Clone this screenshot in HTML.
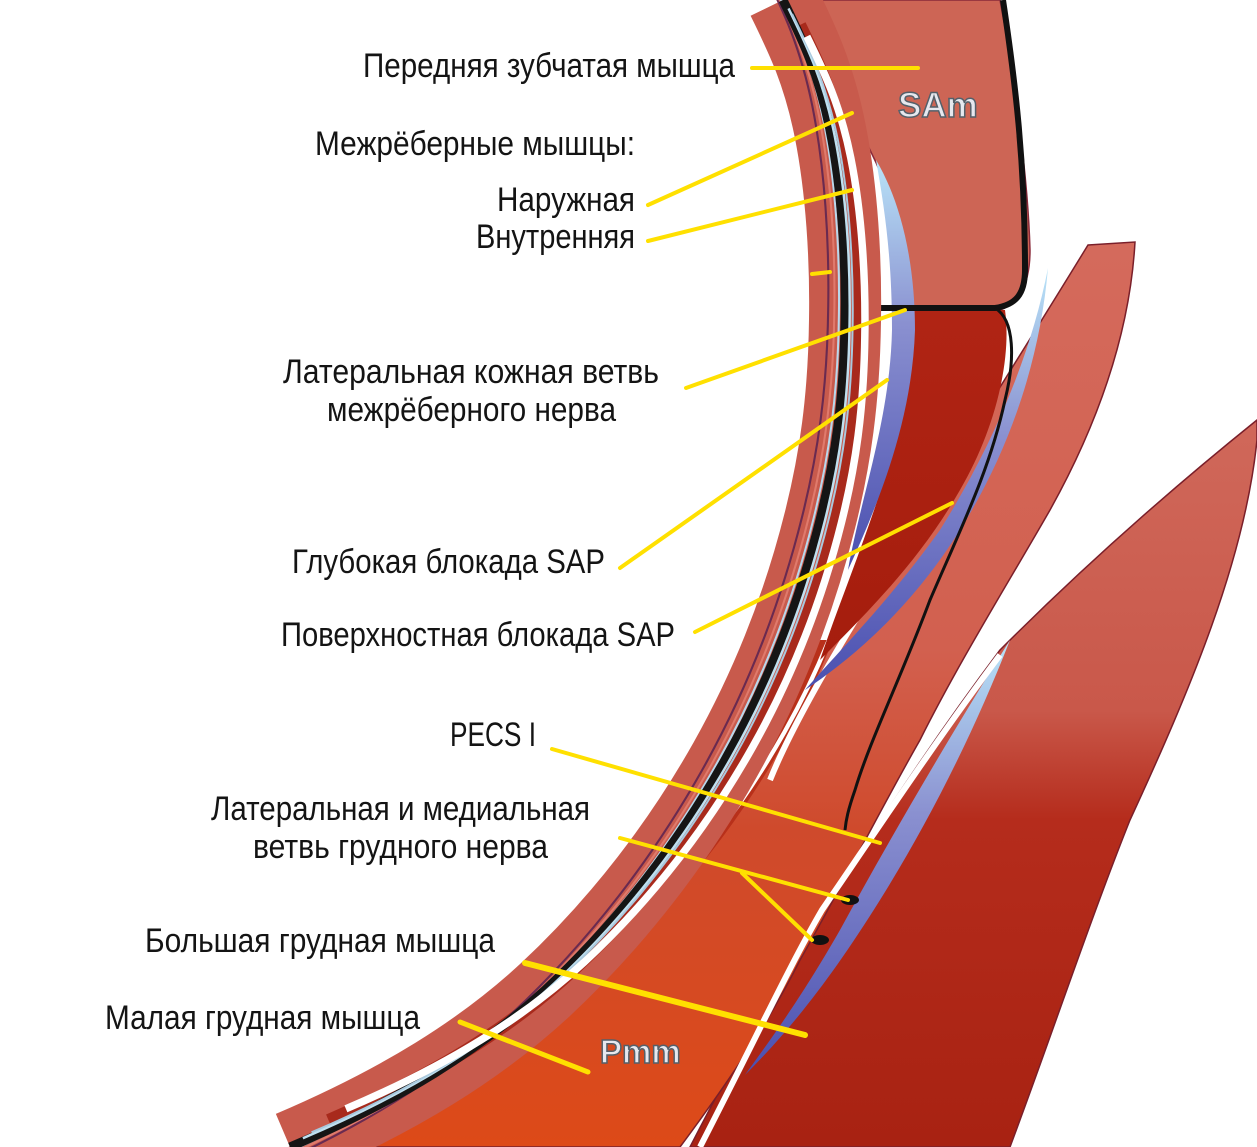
<!DOCTYPE html>
<html><head><meta charset="utf-8"><style>
html,body{margin:0;padding:0;background:#fff;}
svg{display:block;}
.t{font-family:"Liberation Sans Narrow","Liberation Sans","DejaVu Sans Condensed",sans-serif;font-size:34px;fill:#141414;}
.y{stroke:#ffe000;stroke-width:4;fill:none;stroke-linecap:round;}
</style></head><body>
<svg width="1257" height="1147" viewBox="0 0 1257 1147" xmlns="http://www.w3.org/2000/svg">
<defs>
<linearGradient id="gMin" x1="0" y1="0" x2="0" y2="1">
<stop offset="0" stop-color="#d46a5c"/><stop offset="0.45" stop-color="#d2604f"/><stop offset="0.65" stop-color="#cf4a2c"/><stop offset="1" stop-color="#dd4a18"/>
</linearGradient>
<linearGradient id="gMaj" x1="0" y1="0" x2="0" y2="1">
<stop offset="0" stop-color="#d0685a"/><stop offset="0.4" stop-color="#c9584a"/><stop offset="0.55" stop-color="#b52c1c"/><stop offset="1" stop-color="#a82212"/>
</linearGradient>
<linearGradient id="gBlue" x1="0" y1="0" x2="0" y2="1">
<stop offset="0" stop-color="#b9e4f8"/><stop offset="0.4" stop-color="#8a90d0"/><stop offset="1" stop-color="#4a4fb0"/>
</linearGradient>
<linearGradient id="gSer" x1="0" y1="0" x2="0" y2="1">
<stop offset="0" stop-color="#b02414"/><stop offset="1" stop-color="#a51d0d"/>
</linearGradient>
<clipPath id="low"><rect x="0" y="640" width="1257" height="507"/></clipPath>
<path id="bp" d="M783,0 C800,35 818,70 830,130 C842,190 846,260 845,320 C844,400 835,460 820,520 C800,600 770,680 725,760 C680,840 620,920 545,990 C480,1050 400,1100 290,1147"/>
</defs>

<!-- Pectoralis major -->
<path d="M1257,420 L1257,440 C1245,560 1190,690 1130,820 C1090,920 1050,1040 1010,1147 L690,1147 C740,1050 790,960 830,900 C880,820 940,730 1000,650 C1080,570 1170,490 1257,420Z" fill="url(#gMaj)" stroke="#7a1f2a" stroke-width="1.5"/>
<path d="M1010,640 C960,720 900,820 840,930 C800,1000 770,1040 745,1075 C790,1030 830,980 880,900 C930,820 975,730 1010,640Z" fill="url(#gBlue)"/>
<!-- Pectoralis minor -->
<path d="M1088,245 L1135,242 C1130,330 1100,420 1050,510 C1010,580 960,660 920,740 C880,810 840,890 800,960 C770,1020 730,1080 680,1147 L290,1147 C350,1110 450,1065 500,1030 C560,985 600,950 640,910 C690,860 730,800 765,740 C810,670 850,620 900,550 C960,450 1030,340 1088,245Z" fill="url(#gMin)" stroke="#7a1f2a" stroke-width="1.5"/>
<g clip-path="url(#low)" fill="none">
<use href="#bp" transform="translate(1150,560) scale(0.885) translate(-1150,-560)" stroke="#b8301a" stroke-width="26"/>
<use href="#bp" transform="translate(1150,560) scale(0.86) translate(-1150,-560)" stroke="#ffffff" stroke-width="5"/>
</g>
<path d="M1000,655 C940,735 880,825 822,910 C790,965 760,1030 700,1147" stroke="#fff" stroke-width="6" fill="none"/>
<path d="M1040,270 C1000,380 950,470 880,580 C830,660 790,730 770,780" stroke="#fff" stroke-width="6" fill="none"/>
<path d="M1048,268 C1030,360 990,450 940,530 C890,600 840,650 805,690 C850,660 910,610 960,530 C1010,450 1040,360 1048,268Z" fill="url(#gBlue)"/>
<!-- Serratus -->
<path d="M822,0 L1000,0 C1015,80 1028,180 1030,250 C1030,290 1015,305 1000,310 L905,310 C908,250 895,200 870,150 C850,110 835,60 822,0Z" fill="#cd6555" stroke="#8a2a3a" stroke-width="1.5"/>
<path d="M905,310 L1005,310 C1012,360 995,430 960,490 C920,560 870,610 820,660 C840,600 870,530 893,450 C905,400 906,350 905,310Z" fill="url(#gSer)"/>
<path d="M876,160 C900,200 915,260 915,330 C912,420 880,500 848,570 C860,500 890,420 892,330 C892,260 885,210 876,160Z" fill="url(#gBlue)"/>
<!-- nerve -->
<path d="M1003,0 C1015,80 1025,160 1025,270 C1025,295 1015,305 995,308 L850,308" stroke="#111" stroke-width="6" fill="none"/>
<path d="M995,308 C1015,320 1015,360 1005,400 C990,470 960,530 930,600 C900,680 870,740 855,790 C848,810 846,820 845,830" stroke="#111" stroke-width="3" fill="none"/>
<!-- rib / intercostal band -->
<g fill="none">
<use href="#bp" transform="translate(1150,560) scale(1.0) translate(-1150,-560)" stroke="#c85a4c" stroke-width="72"/>
<use href="#bp" transform="translate(1150,560) scale(0.955) translate(-1150,-560)" stroke="#a82a1c" stroke-width="14"/>
<use href="#bp" transform="translate(1150,560) scale(1.055) translate(-1150,-560)" stroke="#6a2a50" stroke-width="2"/>
<use href="#bp" transform="translate(1150,560) scale(1.035) translate(-1150,-560)" stroke="#e07a6c" stroke-width="2"/>
<use href="#bp" transform="translate(1150,560) scale(1.02) translate(-1150,-560)" stroke="#b8d8ec" stroke-width="2"/>
<use href="#bp" transform="translate(1150,560) scale(1.0) translate(-1150,-560)" stroke="#151515" stroke-width="9"/>
<use href="#bp" transform="translate(1150,560) scale(0.985) translate(-1150,-560)" stroke="#bfe0f0" stroke-width="2.5"/>
<use href="#bp" transform="translate(1150,560) scale(0.975) translate(-1150,-560)" stroke="#a9c9de" stroke-width="2"/>
<use href="#bp" transform="translate(1150,560) scale(0.935) translate(-1150,-560)" stroke="#ffffff" stroke-width="8"/>
</g>
<ellipse cx="850" cy="900" rx="9" ry="5" fill="#111"/>
<ellipse cx="820" cy="940" rx="9" ry="5" fill="#111"/>
<text x="898" y="117" font-family="Liberation Sans,sans-serif" font-weight="bold" font-size="35" fill="#e6e8ef" stroke="#55606a" stroke-width="1.5">SAm</text>
<text x="600" y="1063" font-family="Liberation Sans,sans-serif" font-weight="bold" font-size="33" fill="#e6e8ef" stroke="#55606a" stroke-width="1.5">Pmm</text>
<line class="y" x1="752" y1="68" x2="918" y2="68"/>
<line class="y" x1="648" y1="205" x2="852" y2="113"/>
<line class="y" x1="648" y1="241" x2="852" y2="190"/>
<line class="y" x1="812" y1="274" x2="830" y2="272"/>
<line class="y" x1="686" y1="388" x2="905" y2="310"/>
<line class="y" x1="620" y1="568" x2="887" y2="380"/>
<line class="y" x1="695" y1="632" x2="952" y2="503"/>
<line class="y" x1="552" y1="749" x2="880" y2="843"/>
<line class="y" x1="620" y1="838" x2="848" y2="900"/>
<line class="y" x1="742" y1="873" x2="812" y2="940"/>
<line class="y" x1="525" y1="963" x2="805" y2="1035" style="stroke-width:6"/>
<line class="y" x1="460" y1="1022" x2="588" y2="1072" style="stroke-width:5"/>
<text class="t" x="363" y="77" textLength="372" lengthAdjust="spacingAndGlyphs">Передняя зубчатая мышца</text>
<text class="t" x="315" y="155" textLength="320" lengthAdjust="spacingAndGlyphs">Межрёберные мышцы:</text>
<text class="t" x="497" y="211" textLength="138" lengthAdjust="spacingAndGlyphs">Наружная</text>
<text class="t" x="476" y="248" textLength="159" lengthAdjust="spacingAndGlyphs">Внутренняя</text>
<text class="t" x="283" y="383" textLength="376" lengthAdjust="spacingAndGlyphs">Латеральная кожная ветвь</text>
<text class="t" x="327" y="421" textLength="289" lengthAdjust="spacingAndGlyphs">межрёберного нерва</text>
<text class="t" x="292" y="573" textLength="313" lengthAdjust="spacingAndGlyphs">Глубокая блокада SAP</text>
<text class="t" x="281" y="646" textLength="394" lengthAdjust="spacingAndGlyphs">Поверхностная блокада SAP</text>
<text class="t" x="450" y="746" textLength="86" lengthAdjust="spacingAndGlyphs">PECS I</text>
<text class="t" x="211" y="820" textLength="379" lengthAdjust="spacingAndGlyphs">Латеральная и медиальная</text>
<text class="t" x="253" y="858" textLength="295" lengthAdjust="spacingAndGlyphs">ветвь грудного нерва</text>
<text class="t" x="145" y="952" textLength="350" lengthAdjust="spacingAndGlyphs">Большая грудная мышца</text>
<text class="t" x="105" y="1029" textLength="315" lengthAdjust="spacingAndGlyphs">Малая грудная мышца</text>
</svg>
</body></html>
